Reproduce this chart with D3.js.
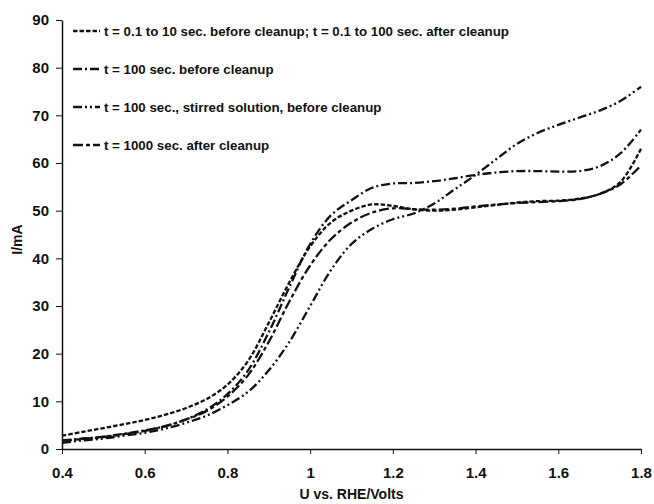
<!DOCTYPE html>
<html>
<head>
<meta charset="utf-8">
<script src="https://cdn.jsdelivr.net/npm/d3@7"></script>
<style>
  body { margin: 0; background: #fff; }
  svg text { font-family: "Liberation Sans", Arial, sans-serif; font-weight: bold; fill: #111; }
</style>
</head>
<body>
<svg id="chart" width="654" height="504"></svg>
<script>
// electrode potential, V vs RHE
var voltage = [0.40, 0.45, 0.50, 0.55, 0.60, 0.65, 0.70, 0.75, 0.80, 0.85,
               0.90, 0.95, 1.00, 1.05, 1.10, 1.15, 1.20, 1.25, 1.30, 1.35,
               1.40, 1.45, 1.50, 1.55, 1.60, 1.65, 1.70, 1.75, 1.80];

// current, mA
var shortTime = [2.8, 3.6, 4.4, 5.2, 6.1, 7.2, 8.6, 10.5, 13.5, 18.5,
                 26.5, 35.0, 42.5, 47.5, 50.0, 51.3, 51.0, 50.3, 50.0, 50.2,
                 50.7, 51.2, 51.7, 52.0, 52.1, 52.5, 53.5, 56.0, 63.0];
var t100 = [1.8, 2.2, 2.6, 3.2, 3.9, 4.8, 6.2, 8.3, 11.5, 16.5,
            24.5, 34.0, 43.0, 49.0, 52.2, 54.8, 55.7, 55.8, 56.2, 56.8,
            57.5, 58.0, 58.3, 58.3, 58.2, 58.3, 59.3, 62.0, 67.0];
var t100Stirred = [1.3, 1.8, 2.2, 2.8, 3.4, 4.3, 5.5, 7.0, 9.2, 12.0,
                   16.5, 22.5, 30.0, 37.5, 43.0, 46.2, 48.2, 49.4, 51.5, 54.5,
                   57.5, 60.8, 64.0, 66.3, 68.0, 69.5, 71.0, 73.0, 76.0];
var t1000 = [1.7, 2.1, 2.5, 3.1, 3.8, 4.8, 6.2, 8.0, 11.0, 15.5,
             22.5, 31.0, 38.5, 44.0, 47.5, 49.6, 50.5, 50.3, 50.2, 50.4,
             50.9, 51.3, 51.6, 51.8, 52.0, 52.4, 53.5, 55.5, 59.5];

var seriesNames = [
  't = 0.1 to 10 sec. before cleanup; t = 0.1 to 100 sec. after cleanup',
  't = 100 sec. before cleanup',
  't = 100 sec., stirred solution, before cleanup',
  't = 1000 sec. after cleanup'
];
var seriesValues = [shortTime, t100, t100Stirred, t1000];
var seriesDash = ['4.5,2', '9,3,2,3', '9,3,2,3,2,3', '10,3,4,3'];

var xTicks = [0.4, 0.6, 0.8, 1.0, 1.2, 1.4, 1.6, 1.8];
var yTicks = [0, 10, 20, 30, 40, 50, 60, 70, 80, 90];

(function () {
  var svg = d3.select('#chart'),
      left = 62, right = 641, top = 20, bottom = 449;

  var x = d3.scaleLinear().domain([0.4, 1.8]).range([left, right]);
  var y = d3.scaleLinear().domain([0, 90]).range([bottom, top]);

  var xAxis = svg.append('g')
    .attr('transform', 'translate(0,' + bottom + ')')
    .call(d3.axisBottom(x).tickValues(xTicks).tickSizeInner(5).tickSizeOuter(0)
      .tickPadding(13)
      .tickFormat(function (d) { return String(+d.toFixed(1)); }));

  var yAxis = svg.append('g')
    .attr('transform', 'translate(' + left + ',0)')
    .call(d3.axisLeft(y).tickValues(yTicks).tickSizeInner(6).tickSizeOuter(0)
      .tickPadding(7));

  [xAxis, yAxis].forEach(function (g) {
    g.select('.domain').attr('stroke', '#111').attr('stroke-width', 1.5);
    g.selectAll('.tick line').attr('stroke', '#111').attr('stroke-width', 1);
    g.selectAll('.tick text').style('font-size', '15px').attr('fill', '#111');
  });

  svg.append('text')
    .attr('x', (left + right) / 2)
    .attr('y', 499)
    .attr('text-anchor', 'middle')
    .style('font-size', '14px')
    .text('U vs. RHE/Volts');

  svg.append('text')
    .attr('transform', 'translate(22,' + ((top + bottom) / 2 + 5) + ') rotate(-90)')
    .attr('text-anchor', 'middle')
    .style('font-size', '14px')
    .text('I/mA');

  var line = d3.line()
    .x(function (d) { return x(d[0]); })
    .y(function (d) { return y(d[1]); })
    .curve(d3.curveCatmullRom);

  seriesValues.forEach(function (vals, i) {
    svg.append('path')
      .datum(voltage.map(function (v, j) { return [v, vals[j]]; }))
      .attr('d', line)
      .attr('fill', 'none')
      .attr('stroke', '#111')
      .attr('stroke-width', 2.3)
      .attr('stroke-dasharray', seriesDash[i]);
  });

  // legend in the upper left of the plot
  var legend = svg.append('g');
  seriesNames.forEach(function (name, i) {
    var ly = 31 + i * 38;
    legend.append('line')
      .attr('x1', 73).attr('x2', 100)
      .attr('y1', ly).attr('y2', ly)
      .attr('stroke', '#111')
      .attr('stroke-width', 2.3)
      .attr('stroke-dasharray', seriesDash[i]);
    legend.append('text')
      .attr('x', 104)
      .attr('y', ly + 4.5)
      .style('font-size', '13.3px')
      .text(name);
  });
})();
</script>
</body>
</html>
